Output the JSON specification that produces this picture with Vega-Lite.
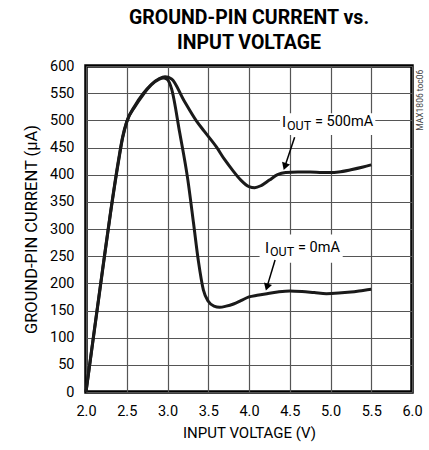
{
  "$schema": "https://vega.github.io/schema/vega-lite/v6.json",
  "width": 326,
  "height": 326,
  "autosize": {"type": "none"},
  "padding": {"left": 86, "top": 66, "right": 17, "bottom": 58},
  "background": "white",
  "title": {
    "text": ["GROUND-PIN CURRENT vs.", "INPUT VOLTAGE"],
    "font": "Roboto",
    "fontSize": 19.5,
    "fontWeight": "bold",
    "color": "black",
    "lineHeight": 25,
    "anchor": "middle",
    "offset": 5
  },
  "config": {
    "view": {"stroke": "black", "strokeWidth": 3.5},
    "axis": {
      "labelFont": "Roboto",
      "titleFont": "Roboto",
      "labelFontSize": 14.5,
      "titleFontSize": 16.5,
      "titleFontWeight": "normal",
      "labelColor": "black",
      "titleColor": "black",
      "labelOverlap": false,
      "labelFlush": false,
      "domain": false,
      "ticks": false,
      "grid": true,
      "gridColor": "#555555",
      "gridWidth": 1.2,
      "gridOpacity": 1
    },
    "text": {"font": "Roboto", "color": "black"}
  },
  "encoding": {
    "x": {"type": "quantitative", "scale": {"domain": [2, 6]},
          "axis": {"values": [2, 2.5, 3, 3.5, 4, 4.5, 5, 5.5, 6], "format": ".1f", "title": "INPUT VOLTAGE (V)", "titleFontSize": 15, "labelPadding": 12, "titlePadding": 8}},
    "y": {"type": "quantitative", "scale": {"domain": [0, 600]},
          "axis": {"values": [0, 50, 100, 150, 200, 250, 300, 350, 400, 450, 500, 550, 600], "title": "GROUND-PIN CURRENT (µA)", "labelPadding": 12, "titlePadding": 10}}
  },
  "datasets": {
    "curves": [
      {"series": "500mA", "v": 2.0, "i": 0},
      {"series": "500mA", "v": 2.1, "i": 110},
      {"series": "500mA", "v": 2.2, "i": 220},
      {"series": "500mA", "v": 2.3, "i": 328},
      {"series": "500mA", "v": 2.4, "i": 425},
      {"series": "500mA", "v": 2.45, "i": 468},
      {"series": "500mA", "v": 2.5, "i": 497},
      {"series": "500mA", "v": 2.6, "i": 527},
      {"series": "500mA", "v": 2.7, "i": 549},
      {"series": "500mA", "v": 2.8, "i": 566},
      {"series": "500mA", "v": 2.9, "i": 577},
      {"series": "500mA", "v": 2.97, "i": 580},
      {"series": "500mA", "v": 3.05, "i": 576},
      {"series": "500mA", "v": 3.2, "i": 537},
      {"series": "500mA", "v": 3.35, "i": 500},
      {"series": "500mA", "v": 3.45, "i": 480},
      {"series": "500mA", "v": 3.6, "i": 451},
      {"series": "500mA", "v": 3.7, "i": 428},
      {"series": "500mA", "v": 3.8, "i": 408},
      {"series": "500mA", "v": 3.9, "i": 390},
      {"series": "500mA", "v": 4.0, "i": 378},
      {"series": "500mA", "v": 4.07, "i": 376},
      {"series": "500mA", "v": 4.15, "i": 380},
      {"series": "500mA", "v": 4.25, "i": 390},
      {"series": "500mA", "v": 4.35, "i": 400},
      {"series": "500mA", "v": 4.45, "i": 404},
      {"series": "500mA", "v": 4.6, "i": 405},
      {"series": "500mA", "v": 4.75, "i": 405},
      {"series": "500mA", "v": 4.9, "i": 404},
      {"series": "500mA", "v": 5.0, "i": 404},
      {"series": "500mA", "v": 5.1, "i": 405},
      {"series": "500mA", "v": 5.25, "i": 409},
      {"series": "500mA", "v": 5.4, "i": 414},
      {"series": "500mA", "v": 5.5, "i": 418},
      {"series": "0mA", "v": 2.0, "i": 0},
      {"series": "0mA", "v": 2.1, "i": 112},
      {"series": "0mA", "v": 2.2, "i": 222},
      {"series": "0mA", "v": 2.3, "i": 330},
      {"series": "0mA", "v": 2.4, "i": 428},
      {"series": "0mA", "v": 2.45, "i": 470},
      {"series": "0mA", "v": 2.5, "i": 498},
      {"series": "0mA", "v": 2.6, "i": 525},
      {"series": "0mA", "v": 2.7, "i": 547},
      {"series": "0mA", "v": 2.8, "i": 565},
      {"series": "0mA", "v": 2.9, "i": 576},
      {"series": "0mA", "v": 2.95, "i": 578},
      {"series": "0mA", "v": 3.0, "i": 575},
      {"series": "0mA", "v": 3.05, "i": 558},
      {"series": "0mA", "v": 3.15, "i": 477},
      {"series": "0mA", "v": 3.25, "i": 390},
      {"series": "0mA", "v": 3.32, "i": 310},
      {"series": "0mA", "v": 3.38, "i": 240},
      {"series": "0mA", "v": 3.44, "i": 188},
      {"series": "0mA", "v": 3.5, "i": 167},
      {"series": "0mA", "v": 3.57, "i": 158},
      {"series": "0mA", "v": 3.64, "i": 156},
      {"series": "0mA", "v": 3.72, "i": 158},
      {"series": "0mA", "v": 3.81, "i": 162},
      {"series": "0mA", "v": 3.9, "i": 168},
      {"series": "0mA", "v": 4.0, "i": 175},
      {"series": "0mA", "v": 4.1, "i": 178},
      {"series": "0mA", "v": 4.22, "i": 181},
      {"series": "0mA", "v": 4.35, "i": 184},
      {"series": "0mA", "v": 4.5, "i": 186},
      {"series": "0mA", "v": 4.65, "i": 185},
      {"series": "0mA", "v": 4.8, "i": 183},
      {"series": "0mA", "v": 4.95, "i": 181},
      {"series": "0mA", "v": 5.1, "i": 182},
      {"series": "0mA", "v": 5.25, "i": 184},
      {"series": "0mA", "v": 5.4, "i": 187},
      {"series": "0mA", "v": 5.5, "i": 189}
    ],
    "boxes": [
      {"x": 4.38, "x2": 5.55, "y": 473, "y2": 513},
      {"x": 4.13, "x2": 5.15, "y": 238, "y2": 290}
    ],
    "arrows": [
      {"x": 4.56, "y": 469, "x2": 4.44, "y2": 415},
      {"x": 4.32, "y": 243, "x2": 4.22, "y2": 193}
    ],
    "heads": [
      {"x": 4.44, "y": 415, "angle": 19},
      {"x": 4.22, "y": 193, "angle": 17}
    ],
    "labels": [
      {"x": 4.405, "y": 497, "rest": "= 500mA"},
      {"x": 4.196, "y": 265, "rest": "= 0mA"}
    ],
    "mark": [
      {"x": 6.098, "y": 537, "t": "MAX1806 toc06"}
    ]
  },
  "layer": [
    {
      "data": {"name": "boxes"},
      "mark": {"type": "rect", "fill": "white", "stroke": null},
      "encoding": {
        "x": {"field": "x"},
        "x2": {"field": "x2"},
        "y": {"field": "y"},
        "y2": {"field": "y2"}
      }
    },
    {
      "data": {"name": "curves"},
      "mark": {"type": "line", "color": "#1a1a1a", "strokeWidth": 3, "interpolate": "monotone"},
      "encoding": {
        "x": {"field": "v"},
        "y": {"field": "i"},
        "detail": {"field": "series"}
      }
    },
    {
      "data": {"name": "arrows"},
      "mark": {"type": "rule", "color": "black", "strokeWidth": 1.5},
      "encoding": {
        "x": {"field": "x"},
        "y": {"field": "y"},
        "x2": {"field": "x2"},
        "y2": {"field": "y2"}
      }
    },
    {
      "data": {"name": "heads"},
      "mark": {"type": "point", "shape": "triangle-down", "filled": true, "color": "black", "size": 70, "opacity": 1},
      "encoding": {
        "x": {"field": "x"},
        "y": {"field": "y"},
        "angle": {"field": "angle", "type": "quantitative", "scale": null}
      }
    },
    {
      "data": {"name": "labels"},
      "mark": {"type": "text", "align": "left", "baseline": "middle", "fontSize": 15},
      "encoding": {
        "x": {"field": "x"},
        "y": {"field": "y"},
        "text": {"value": "I"}
      }
    },
    {
      "data": {"name": "labels"},
      "mark": {"type": "text", "align": "left", "baseline": "middle", "fontSize": 12.5, "dx": 5, "dy": 4},
      "encoding": {
        "x": {"field": "x"},
        "y": {"field": "y"},
        "text": {"value": "OUT"}
      }
    },
    {
      "data": {"name": "labels"},
      "mark": {"type": "text", "align": "left", "baseline": "middle", "fontSize": 14.5, "dx": 33},
      "encoding": {
        "x": {"field": "x"},
        "y": {"field": "y"},
        "text": {"field": "rest"}
      }
    },
    {
      "data": {"name": "mark"},
      "mark": {"type": "text", "align": "center", "baseline": "middle", "fontSize": 8.5, "angle": 270, "color": "#444444"},
      "encoding": {
        "x": {"field": "x"},
        "y": {"field": "y"},
        "text": {"field": "t"}
      }
    }
  ]
}
